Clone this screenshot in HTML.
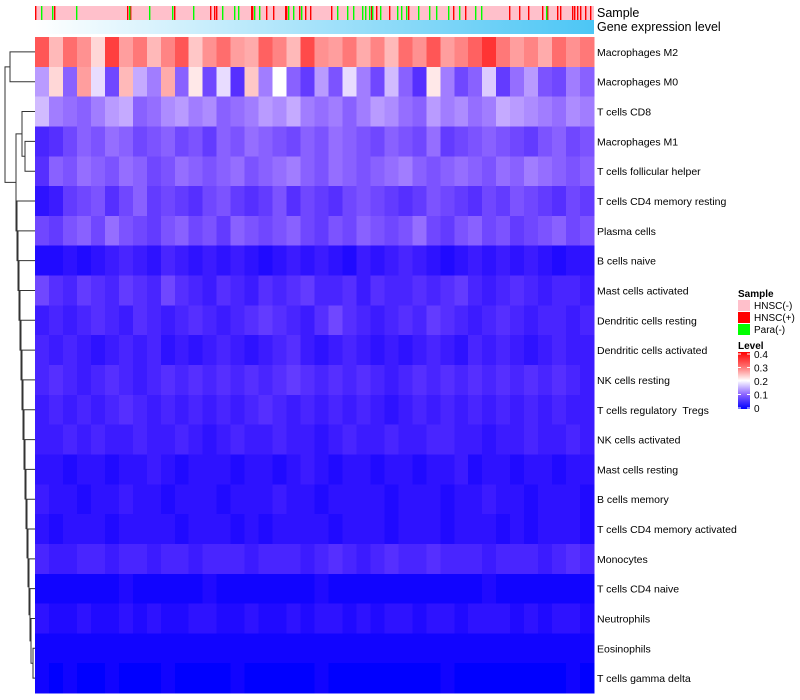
<!DOCTYPE html>
<html><head><meta charset="utf-8"><style>
html,body{margin:0;padding:0;background:#fff;width:800px;height:700px;overflow:hidden}
svg{display:block;font-family:"Liberation Sans",sans-serif}
text{white-space:pre}
</style></head><body>
<svg id="chart" width="800" height="700" viewBox="0 0 800 700"></svg>
<script>
const rowLabels=["Macrophages M2","Macrophages M0","T cells CD8","Macrophages M1","T cells follicular helper","T cells CD4 memory resting","Plasma cells","B cells naive","Mast cells activated","Dendritic cells resting","Dendritic cells activated","NK cells resting","T cells regulatory  Tregs","NK cells activated","Mast cells resting","B cells memory","T cells CD4 memory activated","Monocytes","T cells CD4 naive","Neutrophils","Eosinophils","T cells gamma delta"];
// values in hundredths (0..40 => 0..0.4)
const r0=[32,24,30,27,22,34,26,29,24,28,32,23,27,30,26,25,31,28,24,33,27,26,29,25,28,24,30,27,32,26,28,31,35,29,26,28,25,30,27,29];
const r1=[14,22,10,26,18,8,24,15,12,25,10,21,8,18,6,23,12,20,10,7,14,9,18,12,8,16,10,6,21,12,8,10,17,7,11,14,9,8,12,10];
const r2=[16,12,11,10,12,14,15,10,11,13,14,12,13,10,11,12,14,13,15,12,11,12,10,12,14,13,11,10,14,12,13,11,12,15,14,13,12,11,13,12];
const r3=[5,6,8,10,9,11,10,8,9,10,8,9,7,10,9,11,10,9,8,10,9,11,10,9,8,10,9,8,11,7,8,9,10,9,8,7,9,10,8,9];
const r4=[6,10,9,11,10,9,11,10,8,9,11,10,9,10,11,9,10,11,12,10,9,11,10,9,10,11,12,10,9,10,11,10,9,11,10,12,11,10,9,10];
const r5=[3,4,7,8,9,6,8,10,7,8,7,6,8,9,7,6,7,9,6,8,7,6,8,9,8,7,6,7,9,8,7,6,8,7,9,8,7,6,8,7];
const r6=[8,7,9,10,8,11,9,8,7,9,10,8,9,7,10,9,8,9,10,8,7,9,8,10,9,8,9,11,8,7,9,10,8,9,7,8,9,10,8,9];
const r7=[2,2,3,2,3,4,5,4,3,5,4,3,4,3,4,3,2,3,4,3,4,3,2,4,3,4,5,4,3,2,3,4,3,4,3,4,3,2,3,3];
const r8=[8,6,5,7,6,5,7,6,5,8,6,5,4,6,5,4,6,5,6,7,5,5,6,4,6,5,5,6,5,6,7,5,4,5,6,5,4,5,5,4];
const r9=[4,5,4,5,6,5,4,6,5,4,5,6,5,4,5,6,7,6,5,4,6,8,6,5,4,5,6,5,7,6,5,4,5,6,5,4,5,5,4,5];
const r10=[5,4,5,4,3,4,5,4,5,3,4,3,4,5,4,3,4,5,6,4,3,4,5,4,3,4,3,4,5,4,3,5,4,5,4,3,4,5,4,4];
const r11=[5,6,5,4,5,6,5,4,5,6,5,6,5,6,5,6,5,6,7,6,5,6,5,6,5,4,5,6,5,6,5,6,5,6,5,6,5,6,5,4];
const r12=[4,5,4,5,4,5,6,5,4,5,4,5,4,5,4,5,6,5,4,5,4,5,4,5,4,3,4,5,4,5,4,5,4,5,4,5,4,5,4,4];
const r13=[4,4,5,4,5,4,4,5,4,4,5,4,3,4,5,4,4,5,4,4,3,4,5,4,4,5,4,4,5,5,4,4,3,4,4,5,4,4,5,4];
const r14=[3,3,2,3,3,2,3,3,4,3,2,3,3,3,2,3,3,2,3,4,3,2,3,3,2,3,3,2,3,3,4,2,3,3,2,3,3,2,3,3];
const r15=[4,3,3,2,3,3,4,3,3,2,3,3,3,2,3,3,3,4,3,3,2,3,3,3,3,2,3,3,3,2,3,3,4,3,3,2,3,3,3,2];
const r16=[3,2,3,3,3,2,3,3,3,3,2,3,3,3,2,3,2,3,3,3,3,2,3,3,3,2,3,3,3,2,3,3,3,2,3,2,3,3,3,2];
const r17=[5,4,4,5,5,4,5,5,4,5,5,4,5,5,5,4,5,5,5,4,5,6,5,4,5,6,5,5,6,5,5,5,4,5,5,5,4,5,6,5];
const r18=[1,1,1,1,1,1,2,1,1,1,1,1,2,1,1,1,1,1,1,1,2,1,1,1,1,1,1,1,1,1,1,1,2,1,1,1,1,1,1,1];
const r19=[3,2,2,3,2,2,3,2,3,2,2,3,3,2,2,3,2,2,3,2,3,3,2,3,2,3,3,2,3,3,2,3,3,3,2,3,2,3,3,2];
const r20=[1,1,1,1,1,1,1,1,1,1,1,1,1,1,1,1,1,1,1,1,1,1,1,1,1,1,1,1,1,1,1,1,1,1,1,1,1,1,1,1];
const r21=[1,0,1,0,0,1,0,0,0,1,0,0,0,0,1,0,0,0,0,0,1,0,0,0,0,0,0,0,0,1,0,0,0,0,0,0,0,0,1,0];
const rows=[r0,r1,r2,r3,r4,r5,r6,r7,r8,r9,r10,r11,r12,r13,r14,r15,r16,r17,r18,r19,r20,r21];
// sample annotation: column indices (of 559) for HNSC(+) and Para(-)
const hnscPos=[0,19,92,95,139,175,179,181,216,217,231,238,250,251,264,270,275,296,336,341,354,373,418,430,474,484,493,507,512,522,525,537,539,542,545,550,555];
const paraNeg=[6,17,41,94,114,137,158,187,199,203,219,224,253,258,266,302,312,318,327,330,334,337,345,362,366,371,383,394,401,413,424,440,446,511];
const levelTicks=[0,0.1,0.2,0.3,0.4];
const legendSamples=["HNSC(-)","HNSC(+)","Para(-)"];

const NS="http://www.w3.org/2000/svg";
const svg=document.getElementById('chart');
function mk(t,a,p){const e=document.createElementNS(NS,t);for(const k in a)e.setAttribute(k,a[k]);(p||svg).appendChild(e);return e;}
const X0=35,X1=594,Y0=37,RH=29.82,NCOL=559;
function col(v){v=Math.max(0,Math.min(0.4,v));let r,g,b;
 if(v<=0.2){const t=v/0.2;r=Math.round(255*Math.pow(t,0.9));g=Math.round(255*Math.pow(t,1.4));b=255;}
 else{const t=(v-0.2)/0.2;r=255;g=b=Math.round(255*(1-Math.pow(t,0.8)));}
 return `rgb(${r},${g},${b})`;}
const xScale=(i,n)=>X0+(X1-X0)*i/n;
const yRow=i=>Y0+RH*i;

// sample bar
const sg=mk('g',{});


mk('rect',{x:X0,y:6,width:X1-X0,height:14,fill:'#ffc0cb'},sg);
hnscPos.forEach(c=>{const r=mk('rect',{x:xScale(c,NCOL),y:6,width:1.4,height:14,fill:'#ff0000'},sg);
 });
paraNeg.forEach(c=>{const r=mk('rect',{x:xScale(c,NCOL),y:6,width:1.4,height:14,fill:'#00ff00'},sg);
 });
// gene expression bar
const defs=mk('defs',{});
const lg=mk('linearGradient',{id:'ge',x1:0,x2:1,y1:0,y2:0},defs);
mk('stop',{offset:0,'stop-color':'#ffffff'},lg);mk('stop',{offset:1,'stop-color':'#4cc6f5'},lg);
const gb=mk('rect',{x:X0,y:20,width:X1-X0,height:14,fill:'url(#ge)'});

let t=mk('text',{x:597,y:17,'font-size':12.5,fill:'#000'});t.textContent='Sample';

t=mk('text',{x:597,y:31,'font-size':12.5,fill:'#000'});t.textContent='Gene expression level';


// heatmap
const hg=mk('g',{'shape-rendering':'crispEdges'});

rows.forEach((vals,ri)=>{const n=vals.length;
 vals.forEach((v,ci)=>{const x=xScale(ci,n),w=xScale(ci+1,n)-x;
  const c=mk('rect',{x:x,y:yRow(ri),width:w+0.5,height:RH+0.5,fill:col(v/100)},hg);
  });
 const l=mk('text',{x:597,y:yRow(ri)+RH/2+4,'font-size':10.5,fill:'#000'});l.textContent=rowLabels[ri];
 
});

// dendrogram
const dg=mk('g',{stroke:'#333','stroke-width':1,fill:'none'});

const cy=i=>yRow(i)+RH/2;
function link(ya,xa,yb,xb,xm){mk('path',{d:`M${xa},${ya}H${xm}V${yb}H${xb}`},dg);return (ya+yb)/2;}
const n1=link(cy(0),X0,cy(1),X0,10);
const n2=link(cy(3),X0,cy(4),X0,25);
const n3=link(cy(2),X0,n2,25,22);
let ny=link(cy(20),X0,cy(21),X0,33),nx=33;
for(let k=19;k>=5;k--){const xm=17+(k-5)*1;ny=link(cy(k),X0,ny,nx,xm);nx=xm;}
const n4=link(n3,22,ny,nx,16);
link(n1,10,n4,16,5);

// legend
const lgG=mk('g',{});

t=mk('text',{x:738,y:297,'font-size':10,'font-weight':'bold'},lgG);t.textContent='Sample';
const sc=['#ffc0cb','#ff0000','#00ff00'];
legendSamples.forEach((s,i)=>{const r=mk('rect',{x:738,y:300+i*12,width:12,height:11,fill:sc[i]},lgG);
 
 const tt=mk('text',{x:754,y:309+i*12,'font-size':10},lgG);tt.textContent=s;
 });
t=mk('text',{x:738,y:349,'font-size':10,'font-weight':'bold'},lgG);t.textContent='Level';
const lg2=mk('linearGradient',{id:'lv',x1:0,x2:0,y1:1,y2:0},defs);
[0,0.25,0.5,0.75,1].forEach(o=>mk('stop',{offset:o,'stop-color':col(o*0.4)},lg2));
const cb=mk('rect',{x:738,y:352,width:12,height:57,fill:'url(#lv)'},lgG);

const ly=v=>408-(v/0.4)*54;
levelTicks.forEach(v=>{mk('line',{x1:738,x2:741,y1:ly(v),y2:ly(v),stroke:'#fff'},lgG);mk('line',{x1:747,x2:750,y1:ly(v),y2:ly(v),stroke:'#fff'},lgG);
 const tt=mk('text',{x:754,y:ly(v)+4,'font-size':10},lgG);tt.textContent=String(v);
 });
</script>
</body></html>
